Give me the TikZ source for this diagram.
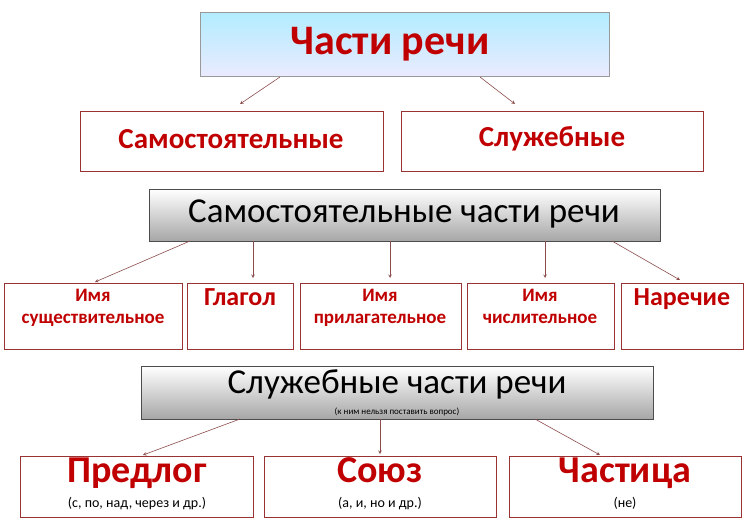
\documentclass[tikz,border=0pt]{standalone}
\usepackage{fontspec}
\setmainfont{Carlito}
\begin{document}
\begin{tikzpicture}[x=1pt,y=-1pt,
 rb/.style={draw=red!50!black!80,line width=1pt,fill=white,text=red!60!black,font=\bfseries},
 ar/.style={draw=red!35!black!70,-stealth,line width=0.6pt}]
\useasboundingbox (0,0) rectangle (750,523);
\definecolor{tred}{RGB}{192,0,0}
\node[draw=black!40,line width=0.8pt,top color=blue!25!cyan!30,bottom color=blue!8,minimum width=409,minimum height=64,anchor=north west] (t) at (200,12) {};
\node[text=tred,font=\bfseries\fontsize{42}{45}\selectfont] (tt) at (390,44) {Части речи};
\node[rb,minimum width=303,minimum height=60,anchor=north west] (s) at (80,111) {};
\node[text=tred,font=\bfseries\fontsize{29}{31}\selectfont] (st) at (231,139) {Самостоятельные};
\node[rb,minimum width=302,minimum height=60,anchor=north west] (sl) at (401,111) {};
\node[text=tred,font=\bfseries\fontsize{29}{31}\selectfont] (slt) at (552,139) {Служебные};
\coordinate (a1) at (280,77); \coordinate (a1e) at (240,104);
\coordinate (a2) at (480,77); \coordinate (a2e) at (515,104);
\draw[ar] (a1) -- (a1e); \draw[ar] (a2) -- (a2e);
\node[draw=black!70,line width=0.8pt,top color=white,bottom color=black!35,minimum width=511,minimum height=52,anchor=north west] (g1) at (149,189) {};
\node[font=\fontsize{35}{38}\selectfont] (g1t) at (404,214) {Самостоятельные части речи};
\tikzset{sm/.style={rb,minimum height=66,anchor=north west},
 st1/.style={text=tred,font=\bfseries\fontsize{19}{22}\selectfont,align=center,anchor=north},
 st2/.style={text=tred,font=\bfseries\fontsize{26}{28}\selectfont,anchor=north}}
\node[sm,minimum width=178] (n1) at (4,283) {};
\node[st1] (n1t) at (93,286) {Имя\\существительное};
\node[sm,minimum width=106] (n2) at (187,283) {};
\node[st2] (n2t) at (240,285) {Глагол};
\node[sm,minimum width=161] (n3) at (300,283) {};
\node[st1] (n3t) at (380,286) {Имя\\прилагательное};
\node[sm,minimum width=147] (n4) at (467,283) {};
\node[st1] (n4t) at (540,286) {Имя\\числительное};
\node[sm,minimum width=122] (n5) at (621,283) {};
\node[st2] (n5t) at (682,285) {Наречие};
\coordinate (b1) at (190,241); \coordinate (b1e) at (95,282);
\coordinate (b2) at (253,241); \coordinate (b2e) at (253,278);
\coordinate (b3) at (390,241); \coordinate (b3e) at (390,278);
\coordinate (b4) at (545,241); \coordinate (b4e) at (545,278);
\coordinate (b5) at (612,241); \coordinate (b5e) at (680,280);
\foreach \i in {1,...,5}{\draw[ar] (b\i) -- (b\i e);}
\node[draw=black!70,line width=0.8pt,top color=white,bottom color=black!35,minimum width=512,minimum height=53,anchor=north west] (g2) at (141,366) {};
\node[font=\fontsize{35}{38}\selectfont,anchor=north] (g2t) at (397,366) {Служебные части речи};
\node[font=\fontsize{9}{10}\selectfont,anchor=north] (g2s) at (397,404) {(к ним нельзя поставить вопрос)};
\tikzset{bb/.style={rb,minimum height=61,anchor=north west}}
\node[bb,minimum width=233] (p1) at (20,456) {};
\node[bb,minimum width=232] (p2) at (264,456) {};
\node[bb,minimum width=232] (p3) at (509,456) {};
\foreach \n/\x/\a/\b in {p1t/137/Предлог/{(с, по, над, через и др.)},p2t/380/Союз/{(а, и, но и др.)},p3t/625/Частица/{(не)}}{
 \node[text=tred,font=\bfseries\fontsize{38}{40}\selectfont,anchor=north] (\n) at (\x,454) {\a};
 \node[font=\fontsize{14}{15}\selectfont,anchor=north] (\n s) at (\x,494) {\b};}
\coordinate (c1) at (240,419); \coordinate (c1e) at (143,455);
\coordinate (c2) at (380,419); \coordinate (c2e) at (380,454);
\coordinate (c3) at (535,419); \coordinate (c3e) at (600,455);
\foreach \i in {1,2,3}{\draw[ar] (c\i) -- (c\i e);}
\end{tikzpicture}
\end{document}
